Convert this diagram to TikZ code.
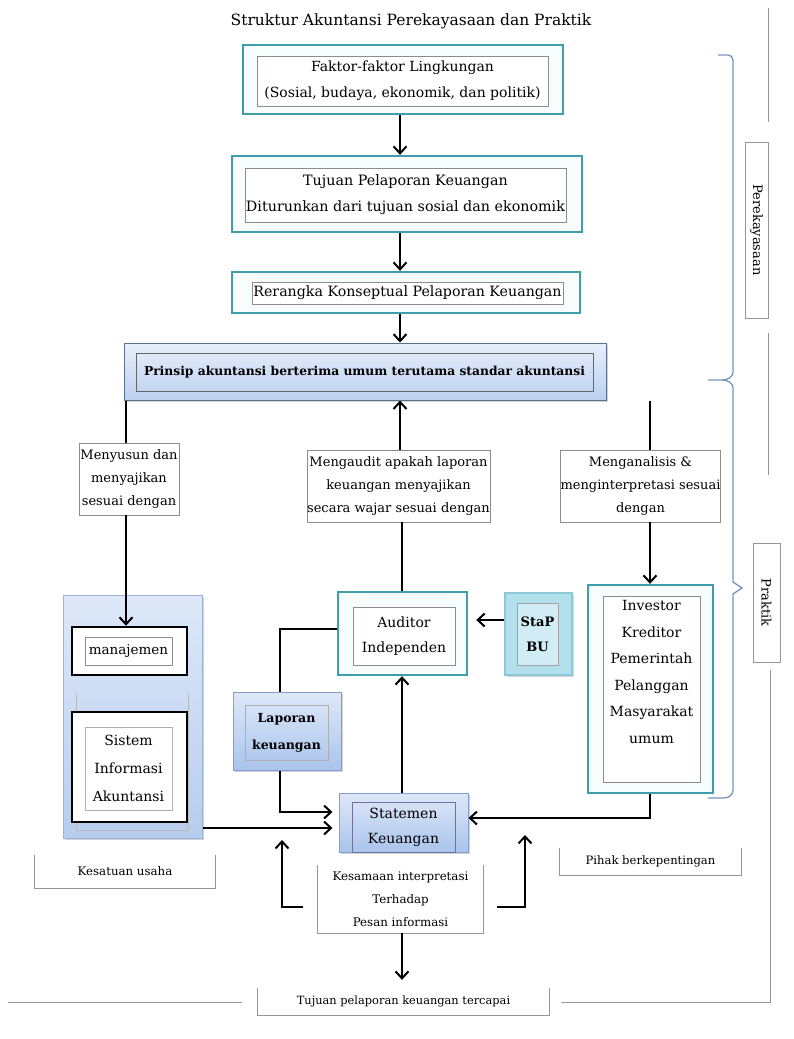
\documentclass[tikz,border=0pt]{standalone}
\usepackage{fontspec}
\setmainfont{DejaVu Serif}
\usetikzlibrary{arrows.meta,calc,shadows}
\definecolor{tealb}{RGB}{62,158,170}
\definecolor{tealfill}{RGB}{247,252,253}
\definecolor{innerg}{RGB}{140,140,140}
\definecolor{bluetop}{RGB}{222,232,248}
\definecolor{bluebot}{RGB}{170,196,236}
\definecolor{blueedge}{RGB}{130,160,205}
\definecolor{stapfill}{RGB}{178,224,236}
\definecolor{stapedge}{RGB}{140,200,215}
\definecolor{bracec}{RGB}{120,148,188}
\definecolor{glines}{RGB}{150,150,150}
\newcommand\fsz[2]{\fontsize{#1pt}{#2pt}\selectfont}
\begin{document}
\begin{tikzpicture}[x=1pt,y=-1pt,
  outerteal/.style={draw=tealb,line width=2.4pt,fill=tealfill,inner sep=0pt},
  innergray/.style={draw=innerg,line width=0.8pt,fill=white,inner sep=0pt,align=center},
  bluebox/.style={draw=blueedge,line width=1pt,top color=bluetop,bottom color=bluebot,inner sep=0pt,
     drop shadow={shadow xshift=1.5pt,shadow yshift=-2pt,opacity=0.35}},
  blueinner/.style={draw=innerg!80!blue,line width=0.8pt,inner sep=0pt,align=center},
  blackbox/.style={draw=black,line width=2.6pt,fill=white,inner sep=0pt},
  lbl/.style={draw=innerg,line width=0.9pt,fill=white,inner sep=0pt,align=center,font=\fsz{13}{23}},
  plain/.style={inner sep=0pt,align=center},
  arr/.style={line width=2.2pt,-{Straight Barb[length=7pt,width=13pt,line width=2pt]}},
  ln/.style={line width=2.2pt},
  gl/.style={draw=glines,line width=1pt},
  brc/.style={draw=bracec,line width=1.3pt},
]
\useasboundingbox (0,0) rectangle (793,1039);
\fill[white] (0,0) rectangle (793,1039);

% helper coordinates
\coordinate (cx) at (400,0);
\coordinate (mx) at (402,0);
\coordinate (lx) at (126,0);
\coordinate (rx) at (650,0);
\coordinate (lpx) at (280,0);
\coordinate (ay) at (0,620);
\coordinate (ly) at (0,629);
\coordinate (y812) at (0,812);
\coordinate (y828) at (0,828);
\coordinate (y818) at (0,818);

% title
\node[plain,font=\fsz{15.5}{18}] (title) at (411,21) {Struktur Akuntansi Perekayasaan dan Praktik};

% box 1
\node[outerteal,minimum width=320pt,minimum height=69pt] (b1o) at (403,79.5) {};
\node[innergray,minimum width=291pt,minimum height=50pt,font=\fsz{14}{26}] (b1) at (402.5,81)
  {Faktor-faktor Lingkungan\\(Sosial, budaya, ekonomik, dan politik)};
% box 2
\node[outerteal,minimum width=350pt,minimum height=76pt] (b2o) at (407,194) {};
\node[innergray,minimum width=321pt,minimum height=54pt,font=\fsz{14.3}{26}] (b2) at (405.5,195)
  {Tujuan Pelaporan Keuangan\\Diturunkan dari tujuan sosial dan ekonomik};
% box 3
\node[outerteal,minimum width=348pt,minimum height=41pt] (b3o) at (406,292.5) {};
\node[innergray,minimum width=311pt,minimum height=22pt,font=\fsz{14.2}{20}] (b3) at (407.5,293)
  {Rerangka Konseptual Pelaporan Keuangan};
% box 4
\node[bluebox,draw=blueedge!70!black,minimum width=482pt,minimum height=57pt,top color=bluetop!70!white,bottom color=bluebot!80!white] (b4o) at (365,371.5) {};
\node[blueinner,draw=black!60,minimum width=457pt,minimum height=38pt,font=\bfseries\fsz{12.3}{16}] (b4) at (364.5,372)
  {Prinsip akuntansi berterima umum terutama standar akuntansi};

% labels
\node[lbl,minimum width=100pt,minimum height=72pt] (menyusun) at (129,479)
  {Menyusun dan\\menyajikan\\sesuai dengan};
\node[lbl,minimum width=183pt,minimum height=72pt] (audit) at (398.5,486)
  {Mengaudit apakah laporan\\keuangan menyajikan\\secara wajar sesuai dengan};
\node[lbl,minimum width=159pt,minimum height=72pt] (analisis) at (640.5,486)
  {Menganalisis \&\\menginterpretasi sesuai\\dengan};

% kesatuan usaha big box
\node[bluebox,draw=blueedge!80,top color=bluetop,bottom color=bluebot!85!white,minimum width=139pt,minimum height=243pt] (kesbox) at (132.5,716.5) {};
\draw[draw=innerg!60,line width=0.9pt] (76,693) -- (76,830) -- (188,830) -- (188,693);
\node[blackbox,minimum width=115pt,minimum height=48pt] (manajo) at (129.5,651) {};
\node[innergray,minimum width=87pt,minimum height=28pt,font=\fsz{13.5}{16}] (manaj) at (128.5,651) {manajemen};
\node[blackbox,minimum width=115pt,minimum height=110pt] (sistemo) at (129.5,767) {};
\node[innergray,draw=innerg!70,minimum width=87pt,minimum height=83pt,font=\fsz{14}{28}] (sistem) at (128.5,768.5)
  {Sistem\\Informasi\\Akuntansi};

% laporan keuangan
\node[bluebox,minimum width=108pt,minimum height=78pt] (lapo) at (287,731) {};
\node[blueinner,draw=innerg!70,minimum width=83pt,minimum height=55pt,font=\bfseries\fsz{12.5}{27}] (lap) at (286.5,732.5)
  {Laporan\\keuangan};

% auditor
\node[outerteal,minimum width=129pt,minimum height=83pt] (auditoro) at (402.5,633.5) {};
\node[innergray,minimum width=102pt,minimum height=58pt,font=\fsz{14}{25}] (auditor) at (404,636)
  {Auditor\\Independen};

% StaP BU
\node[draw=stapedge,line width=1.2pt,fill=stapfill,inner sep=0pt,minimum width=67pt,minimum height=82pt,
  drop shadow={shadow xshift=1.5pt,shadow yshift=-2pt,opacity=0.3}] (stapo) at (538.5,634) {};
\node[draw=innerg!80,line width=0.9pt,fill=stapfill!60!white,inner sep=0pt,align=center,minimum width=41pt,minimum height=62pt,font=\bfseries\fsz{13}{25}] (stap) at (537.5,634)
  {StaP\\BU};

% investor
\node[outerteal,minimum width=125pt,minimum height=208pt] (investoro) at (650.5,689) {};
\node[innergray,minimum width=97pt,minimum height=186pt] (investor) at (651.5,689) {};
\node[plain,anchor=north,font=\fsz{14}{26.6}] (invtext) at (651.5,600)
  {Investor\\Kreditor\\Pemerintah\\Pelanggan\\Masyarakat\\umum};

% statemen keuangan
\node[bluebox,minimum width=129pt,minimum height=59pt] (stmo) at (403.5,822.5) {};
\node[blueinner,draw=innerg!80!blue,minimum width=103pt,minimum height=50pt,font=\fsz{14}{25}] (stm) at (403.5,827)
  {Statemen\\Keuangan};

% kesamaan
\node[plain,minimum width=165pt,minimum height=68pt,font=\fsz{11.8}{23}] (kes) at (400.5,899)
  {Kesamaan interpretasi\\Terhadap\\Pesan informasi};
\draw[gl] (kes.north west) -- (kes.south west) -- (kes.south east) -- (kes.north east);

% bottom labels
\node[plain,minimum width=180pt,minimum height=33pt,font=\fsz{11.8}{14}] (kesu) at (125,871.5) {Kesatuan usaha};
\draw[gl] (kesu.north west) -- (kesu.south west) -- (kesu.south east) -- (kesu.north east);
\node[plain,minimum width=181pt,minimum height=27pt,font=\fsz{11.6}{14}] (pihak) at (650.5,861.5) {Pihak berkepentingan};
\draw[gl] (pihak.north west) -- (pihak.south west) -- (pihak.south east) -- (pihak.north east);
\node[plain,minimum width=291pt,minimum height=27pt,font=\fsz{11.4}{14}] (tuj) at (403.5,1001.5) {Tujuan pelaporan keuangan tercapai};
\draw[gl] (tuj.north west) -- (tuj.south west) -- (tuj.south east) -- (tuj.north east);

% right side labels
\node[draw=glines,line width=1pt,fill=white,inner sep=0pt,minimum width=176pt,minimum height=23pt,rotate=-90,font=\fsz{13}{15}] (perek) at (756.5,230) {Perekayasaan};
\node[draw=glines,line width=1pt,fill=white,inner sep=0pt,minimum width=119pt,minimum height=27pt,rotate=-90,font=\fsz{13}{15}] (prak) at (766.5,602.5) {Praktik};

% grey frame lines
\coordinate (g1) at (768,8);
\coordinate (g2) at (768,122);
\coordinate (g3) at (768,333);
\coordinate (g4) at (768,475);
\coordinate (g5) at (770,670);
\coordinate (g6) at (770,1002);
\coordinate (g7) at (561,1002);
\coordinate (g8) at (242,1002);
\coordinate (g9) at (8,1002);
\draw[gl] (g1) -- (g2);
\draw[gl] (g3) -- (g4);
\draw[gl] (g5) -- (g6) -- (g7);
\draw[gl] (g8) -- (g9);

% braces
\draw[brc] (718,55) -- (728,55) to[out=0,in=90] (733,60) -- (733,372) to[out=-90,in=0] (722,380) -- (708,380);
\draw[brc] (722,380) to[out=0,in=90] (733,388) -- (733,582) -- (742,588) -- (733,594) -- (733,790) to[out=-90,in=0] (724,798) -- (708,798);

% connectors: top chain
\draw[arr] (b1o.south -| cx) -- (b2o.north -| cx);
\draw[arr] (b2o.south -| cx) -- (b3o.north -| cx);
\draw[arr] (b3o.south -| cx) -- (b4o.north -| cx);

% from principles
\draw[ln] (b4o.south -| lx) -- (menyusun.north -| lx);
\draw[arr] (menyusun.south -| lx) -- (manajo.north -| lx);
\draw[arr] (audit.north -| cx) -- (b4o.south -| cx);
\draw[ln] (audit.south -| mx) -- (auditoro.north -| mx);
\draw[ln] (b4o.south -| rx) -- (analisis.north -| rx);
\draw[arr] (analisis.south -| rx) -- (investoro.north -| rx);

% middle region
\draw[arr,shorten >=8pt] (stapo.west |- ay) -- (auditoro.east |- ay);
\draw[ln] (auditoro.west |- ly) -| (lapo.north -| lpx);
\draw[arr,shorten >=6pt] (lapo.south -| lpx) |- (stmo.west |- y812);
\draw[arr,shorten >=6pt] (kesbox.east |- y828) -- (stmo.west |- y828);
\draw[arr] (investoro.south -| rx) |- (stmo.east |- y818);
\draw[arr] (stmo.north -| mx) -- (auditoro.south -| mx);

% kesamaan arrows
\coordinate (kl1) at (303,907);
\coordinate (kl2) at (282,840);
\coordinate (kr1) at (497,907);
\coordinate (kr2) at (525,835);
\draw[arr] (kl1) -| (kl2);
\draw[arr] (kr1) -| (kr2);
\draw[arr,shorten >=8pt] (kes.south -| mx) -- (tuj.north -| mx);
\end{tikzpicture}
\end{document}
